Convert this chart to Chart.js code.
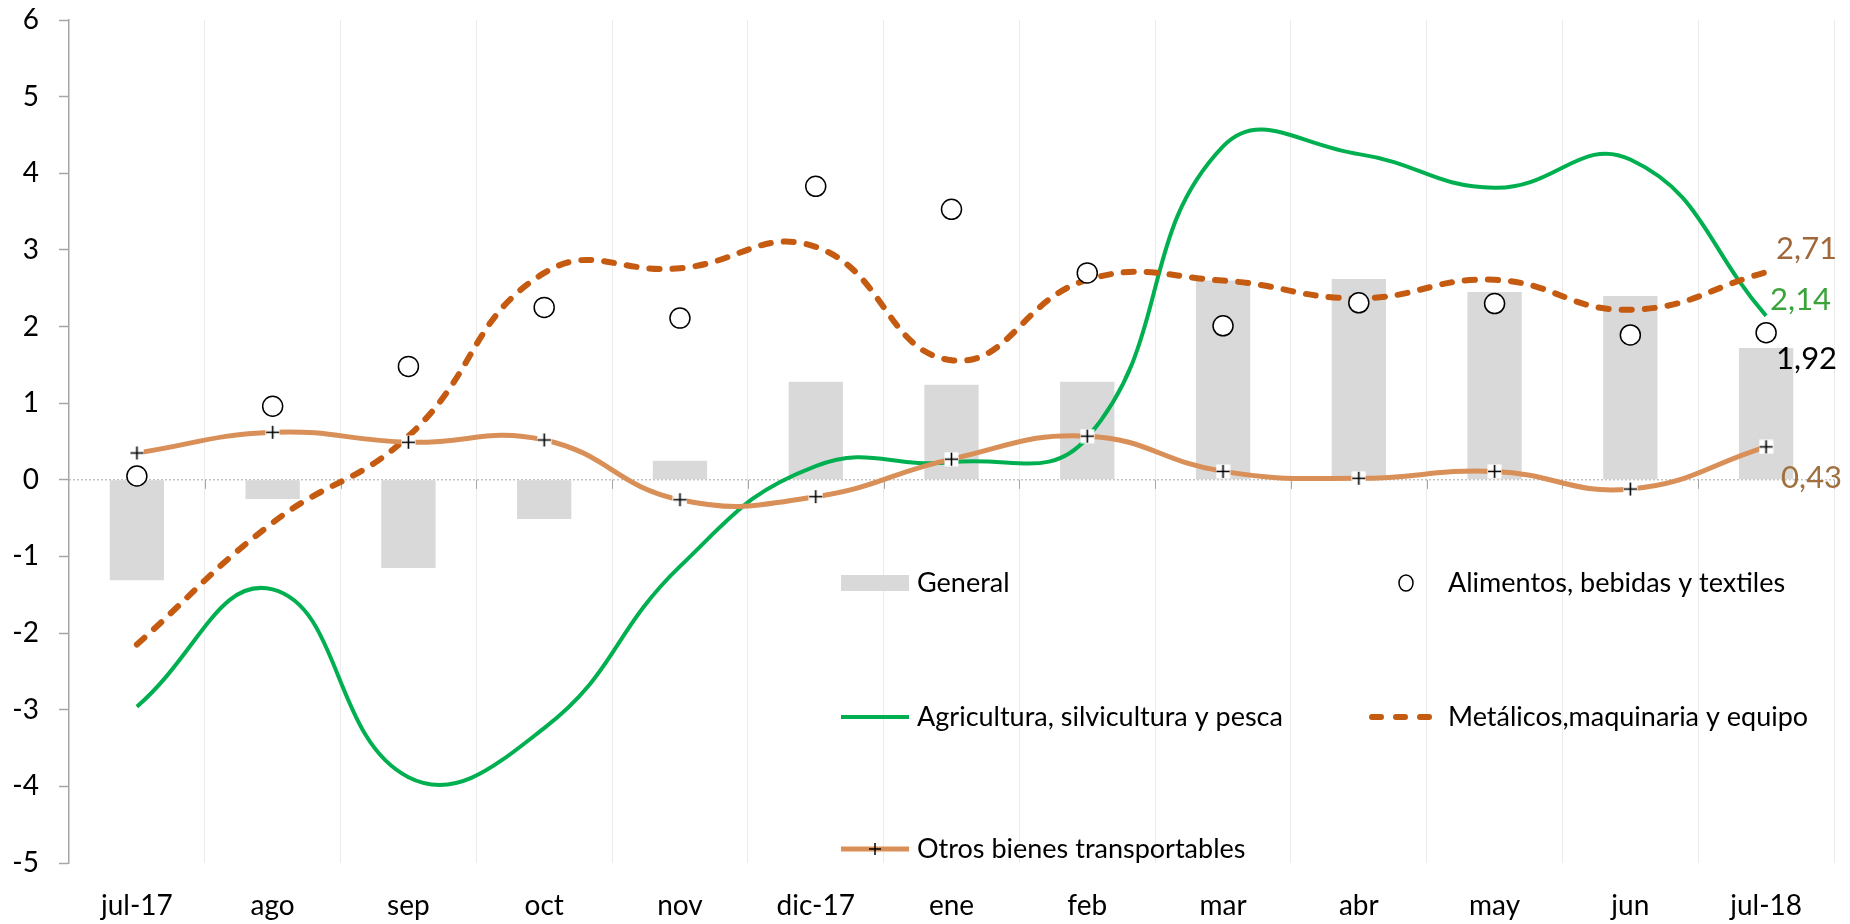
<!DOCTYPE html>
<html><head><meta charset="utf-8">
<script src="https://cdn.jsdelivr.net/npm/chart.js@4/dist/chart.umd.min.js"></script>
<style>html,body{margin:0;padding:0;background:#fff;}#wrap{width:1850px;height:924px;position:relative}</style>
</head><body><div id="wrap"><canvas id="c" width="1850" height="924"></canvas></div>
<script>
const categories = ['jul-17','ago','sep','oct','nov','dic-17','ene','feb','mar','abr','may','jun','jul-18'];
const general = [-1.31,-0.25,-1.15,-0.51,0.25,1.28,1.24,1.28,2.60,2.62,2.45,2.40,1.72];
const alimentos = [0.05,0.96,1.48,2.25,2.11,3.83,3.53,2.70,2.01,2.31,2.30,1.89,1.92];
const agricultura = [-2.96,-1.43,-3.88,-3.24,-1.13,0.18,0.23,0.55,4.35,4.25,3.81,4.18,2.14];
const metalicos = [-2.15,-0.56,0.57,2.70,2.76,3.04,1.56,2.61,2.60,2.37,2.61,2.22,2.71];
const otros = [0.35,0.62,0.49,0.52,-0.26,-0.22,0.27,0.57,0.11,0.02,0.11,-0.12,0.43];
const yTicks = [-5,-4,-3,-2,-1,0,1,2,3,4,5,6];
const seriesNames = ['General','Alimentos, bebidas y textiles','Agricultura, silvicultura y pesca','Metálicos,maquinaria y equipo','Otros bienes transportables'];
const endLabels = ['2,71','2,14','1,92','0,43'];

const FONT = 'Lato, "Open Sans", sans-serif';
const C_GREEN = '#00B050', C_DASH = '#C55A11', C_OTROS = '#D98F58', C_BAR = '#D9D9D9';

// cross marker with white square background
const crossImg = document.createElement('canvas');
crossImg.width = 15; crossImg.height = 15;
(function(){
  const g = crossImg.getContext('2d');
  g.fillStyle = '#fff'; g.fillRect(0.5,0.5,14,14);
  g.strokeStyle = '#000'; g.lineWidth = 1.6;
  g.beginPath(); g.moveTo(7.5,1); g.lineTo(7.5,14); g.moveTo(1,7.5); g.lineTo(14,7.5); g.stroke();
})();

const extras = {
  id: 'extras',
  beforeDatasetsDraw(chart) {
    const {ctx, chartArea, scales} = chart;
    const y0 = scales.y.getPixelForValue(0);
    ctx.save();
    ctx.strokeStyle = '#A6A6A6'; ctx.lineWidth = 1; ctx.setLineDash([2,2]);
    ctx.beginPath(); ctx.moveTo(chartArea.left, y0); ctx.lineTo(chartArea.right, y0); ctx.stroke();
    ctx.setLineDash([]);
    const n = categories.length;
    const w = (chartArea.right - chartArea.left) / n;
    ctx.beginPath();
    for (let i = 1; i <= n; i++) {
      const x = Math.round(chartArea.left + i * w) + 0.5;
      ctx.moveTo(x, y0); ctx.lineTo(x, y0 + 9);
    }
    ctx.stroke();
    ctx.restore();
  },
  afterDraw(chart) {
    const {ctx, scales} = chart;
    const last = categories.length - 1;
    const lx = scales.x.getPixelForValue(last);
    ctx.save();
    ctx.textBaseline = 'middle'; ctx.textAlign = 'left';
    ctx.font = '31px ' + FONT;
    const labs = [
      [endLabels[0], metalicos[last], '#A0683A', 10, -23],
      [endLabels[1], agricultura[last], '#3BA33B', 4, -16],
      [endLabels[2], alimentos[last], '#000000', 10, 26],
      [endLabels[3], otros[last], '#A0703F', 15, 31]
    ];
    labs.forEach(([t, v, col, dx, dy]) => {
      ctx.fillStyle = col;
      ctx.fillText(t, lx + dx, scales.y.getPixelForValue(v) + dy);
    });

    // legend
    ctx.font = '27px ' + FONT;
    ctx.fillStyle = '#000';
    const rows = [583, 717, 849];
    const c1s = 841, c1e = 909, c1t = 917, c2t = 1448;
    ctx.fillStyle = C_BAR; ctx.fillRect(c1s, rows[0] - 8, c1e - c1s, 16);
    ctx.fillStyle = '#000'; ctx.fillText(seriesNames[0], c1t, rows[0]);
    ctx.beginPath(); ctx.ellipse(1406, rows[0], 7, 8, 0, 0, Math.PI * 2);
    ctx.fillStyle = '#fff'; ctx.fill(); ctx.strokeStyle = '#000'; ctx.lineWidth = 1.5; ctx.stroke();
    ctx.fillStyle = '#000'; ctx.fillText(seriesNames[1], c2t, rows[0]);
    ctx.strokeStyle = C_GREEN; ctx.lineWidth = 4;
    ctx.beginPath(); ctx.moveTo(c1s, rows[1]); ctx.lineTo(c1e, rows[1]); ctx.stroke();
    ctx.fillText(seriesNames[2], c1t, rows[1]);
    ctx.strokeStyle = C_DASH; ctx.lineWidth = 6; ctx.lineCap = 'round';
    ctx.beginPath();
    [[1372,1381],[1396,1405],[1420,1429]].forEach(([a,b]) => { ctx.moveTo(a, rows[1]); ctx.lineTo(b, rows[1]); });
    ctx.stroke(); ctx.lineCap = 'butt';
    ctx.fillText(seriesNames[3], c2t, rows[1]);
    ctx.strokeStyle = C_OTROS; ctx.lineWidth = 5;
    ctx.beginPath(); ctx.moveTo(c1s, rows[2]); ctx.lineTo(c1e, rows[2]); ctx.stroke();
    ctx.strokeStyle = '#000'; ctx.lineWidth = 1.5;
    ctx.beginPath(); ctx.moveTo(875, rows[2] - 6); ctx.lineTo(875, rows[2] + 6); ctx.moveTo(869, rows[2]); ctx.lineTo(881, rows[2]); ctx.stroke();
    ctx.fillText(seriesNames[4], c1t, rows[2]);
    ctx.restore();
  }
};

new Chart(document.getElementById('c'), {
  data: {
    labels: categories,
    datasets: [
      { type: 'line', label: seriesNames[1], data: alimentos, showLine: false, pointRadius: 10, pointBorderWidth: 1.5,
        pointBackgroundColor: '#fff', pointBorderColor: '#000', order: 1 },
      { type: 'line', label: seriesNames[4], data: otros, borderColor: C_OTROS, borderWidth: 5, tension: 0.45,
        pointStyle: crossImg, pointRadius: 7, order: 2 },
      { type: 'line', label: seriesNames[3], data: metalicos, borderColor: C_DASH, borderWidth: 6, borderDash: [10, 13],
        borderCapStyle: 'round', tension: 0.45, pointRadius: 0, order: 3 },
      { type: 'line', label: seriesNames[2], data: agricultura, borderColor: C_GREEN, borderWidth: 4, tension: 0.45,
        pointRadius: 0, order: 4 },
      { type: 'bar', label: seriesNames[0], data: general, backgroundColor: C_BAR, barPercentage: 0.4,
        categoryPercentage: 1, order: 5 }
    ]
  },
  options: {
    responsive: false, animation: false,
    layout: { padding: { left: 14, right: 16, top: 20, bottom: 0 } },
    plugins: { legend: { display: false }, tooltip: { enabled: false } },
    scales: {
      x: {
        offset: true,
        afterFit(s) { s.height = 61; },
        grid: { offset: true, color: '#EBEBEB', lineWidth: 1, drawTicks: false },
        border: { display: false },
        ticks: { color: '#000', font: { family: FONT, size: 28 }, padding: 26, maxRotation: 0, autoSkip: false }
      },
      y: {
        min: -5, max: 6,
        afterFit(s) { s.width = 55; s.paddingTop = 0; s.paddingBottom = 0; },
        afterBuildTicks(s) { s.ticks = yTicks.map(v => ({ value: v })); },
        grid: { drawOnChartArea: false, drawTicks: true, tickLength: 10, tickColor: '#A6A6A6', tickWidth: 1.5 },
        border: { display: true, color: '#A6A6A6', width: 1.5 },
        ticks: { color: '#000', font: { family: FONT, size: 28, lineHeight: 0.6 }, padding: 20 }
      }
    }
  },
  plugins: [extras]
});
</script>
</body></html>
